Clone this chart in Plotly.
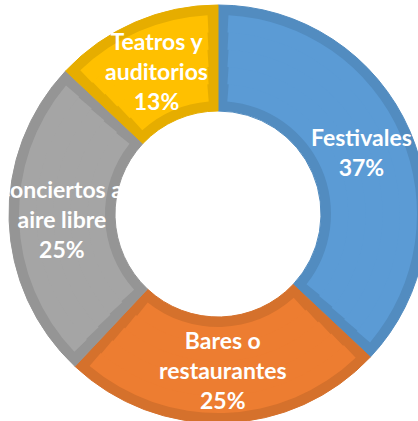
import math
import plotly.graph_objects as go

# ---- data ----
categories = ["Festivales", "Bares o restaurantes", "Conciertos al aire libre", "Teatros y auditorios"]
values = [37, 25, 25, 13]
label_lines = ["Festivales", "Bares o<br>restaurantes", "Conciertos al<br>aire libre", "Teatros y<br>auditorios"]

# ---- style ----
fill_colors = ["#5B9BD5", "#ED7D31", "#A5A5A5", "#FFC000"]
border_colors = ["#528CC0", "#D5712C", "#959595", "#E6AD00"]
TRANSPARENT = "rgba(0,0,0,0)"

W, H = 440, 430          # canvas slightly larger than the window; extra is hidden
CX, CY = 218, 214        # donut centre in pixels
R_OUT = 209
R_HOLE = 103
BORDER = 10
N_BANDS = 5
FONT = dict(family="Lato, Open Sans, sans-serif", size=23, color="white", weight="bold")


def domain(r):
    return dict(x=[(CX - r) / W, (CX + r) / W], y=[1 - (CY + r) / H, 1 - (CY - r) / H])


fig = go.Figure()

# darker outer slice (forms the inset border)
fig.add_trace(go.Pie(
    labels=categories, values=values, sort=False, direction="clockwise", rotation=0,
    hole=R_HOLE / R_OUT, domain=domain(R_OUT),
    marker=dict(colors=border_colors, line=dict(color=border_colors, width=1)),
    textinfo="none", hoverinfo="skip", showlegend=False,
))

# lighter inner fill, drawn in concentric bands so the side borders keep a near-constant width
total = sum(values)
r_in, r_out = R_HOLE + BORDER, R_OUT - BORDER
edges = [r_in + (r_out - r_in) * k / N_BANDS for k in range(N_BANDS + 1)]
for k in range(N_BANDS):
    a, b = edges[k], edges[k + 1]
    rm = (a + b) / 2
    g = math.degrees(BORDER / rm) / 360 * total
    outer = b + (1 if k < N_BANDS - 1 else 0)
    vals, cols, labs = [], [], []
    for cat, v, c in zip(categories, values, fill_colors):
        vals += [g, v - 2 * g, g]
        cols += [TRANSPARENT, c, TRANSPARENT]
        labs += [cat + " (a)", cat, cat + " (b)"]
    fig.add_trace(go.Pie(
        labels=labs, values=vals, sort=False, direction="clockwise", rotation=0,
        hole=a / outer, domain=domain(outer),
        marker=dict(colors=cols, line=dict(width=0)),
        textinfo="none", hoverinfo="skip", showlegend=False,
    ))

# data labels at the middle of each ring slice
annotations = []
cum = 0
d = (R_HOLE + R_OUT) / 2
for lines, v in zip(label_lines, values):
    mid = (cum + v / 2) / total * 2 * math.pi
    cum += v
    x = CX + d * math.sin(mid)
    y = CY - d * math.cos(mid)
    annotations.append(dict(
        text=f"{lines}<br>{v / total:.0%}", x=x / W, y=1 - y / H,
        xref="paper", yref="paper", xanchor="center", yanchor="middle",
        showarrow=False, font=FONT, align="center",
    ))

fig.update_layout(
    width=W, height=H, margin=dict(l=0, r=0, t=0, b=0),
    paper_bgcolor="white", plot_bgcolor="white", showlegend=False,
    annotations=annotations,
)

fig.write_html(
    "out.html",
    config={"displayModeBar": False},
    post_script=(
        "document.body.style.margin='0';"
        "document.body.style.overflow='hidden';"
        "document.documentElement.style.overflow='hidden';"
    ),
)
